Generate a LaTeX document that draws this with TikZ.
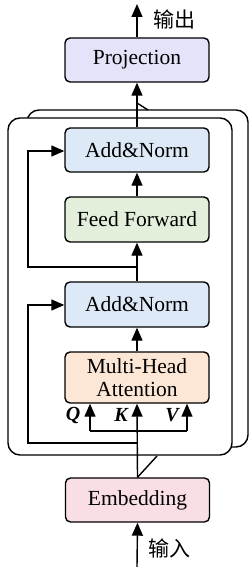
\documentclass[tikz,border=0pt]{standalone}
\usepackage{fontspec}
\setmainfont{Liberation Serif}
\newfontfamily\cjk{Noto Sans CJK SC}
\usetikzlibrary{arrows.meta}
\definecolor{projc}{HTML}{E3E3FA}
\definecolor{normc}{HTML}{DDE9F6}
\definecolor{ffc}{HTML}{E3EFDB}
\definecolor{attc}{HTML}{FCE6D6}
\definecolor{embc}{HTML}{F9DEE5}
\begin{document}
\begin{tikzpicture}[x=1pt,y=-1pt,line width=1.4pt,
  blk/.style={draw, rounded corners=5pt, minimum width=144pt, inner sep=0pt, align=center,
    font=\fontsize{21.5}{25}\selectfont},
  arr/.style={-{Triangle[length=13pt,width=11pt]}},
  frame/.style={draw, rounded corners=12pt},
  lab/.style={font=\fontsize{20}{22}\selectfont\bfseries\itshape},
  cjklab/.style={font=\fontsize{21}{23}\selectfont\cjk}]
\useasboundingbox (0,0) rectangle (251,567);
% stacked frames
\draw[frame] (27,110) rectangle (248,447);
\draw[frame, fill=white] (8,118) rectangle (232,455);
\coordinate (ftop) at (148,110);
\coordinate (fbot) at (157,456);
% boxes
\node[blk, fill=projc, minimum height=44pt] (proj) at (137,60) {Projection};
\node[blk, fill=normc, minimum height=44pt] (an2) at (137,150) {Add\&Norm};
\node[blk, fill=ffc, minimum height=45pt] (ff) at (137,219.5) {Feed Forward};
\node[blk, fill=normc, minimum height=45pt] (an1) at (137,304.5) {Add\&Norm};
\node[blk, fill=attc, minimum height=51pt] (att) at (137,377.5) {Multi-Head\\[-2pt]Attention};
\node[blk, fill=embc, minimum height=44pt] (emb) at (137.5,500) {Embedding};
% output / input
\coordinate (out) at (137,4);
\coordinate (in) at (137,567);
\node[cjklab] (outl) at (174,19) {输出};
\node[cjklab] (inl) at (169,548) {输入};
\draw[arr] (proj.north) -- (out);
\draw[arr] (in) -- (emb.south);
% main flow
\draw[arr] (an2.north) -- (proj.south);
\draw (137,103) -- (ftop);
\draw[arr] (ff.north) -- (an2.south);
\draw[arr] (an1.north) -- (ff.south);
\draw[arr] (att.north) -- (an1.south);
\draw[arr] (emb.north) -- (att.south);
\draw (emb.north) -- (fbot);
% QKV
\coordinate (qb) at (90,431);
\coordinate (vb) at (187,431);
\draw (qb) -- (vb);
\draw[arr] (qb) -- (qb |- att.south);
\draw[arr] (vb) -- (vb |- att.south);
\node[lab] (q) at (73,415) {Q};
\node[lab] (k) at (121,415) {K};
\node[lab] (v) at (172,415) {V};
% residuals
\coordinate (r1) at (137,443);
\coordinate (r2) at (137,267);
\draw[arr] (r1) -- (28,443) -- (28,305) -- (an1.west |- 0,305);
\draw[arr] (r2) -- (28,267) -- (28,151) -- (an2.west |- 0,151);
\end{tikzpicture}
\end{document}
